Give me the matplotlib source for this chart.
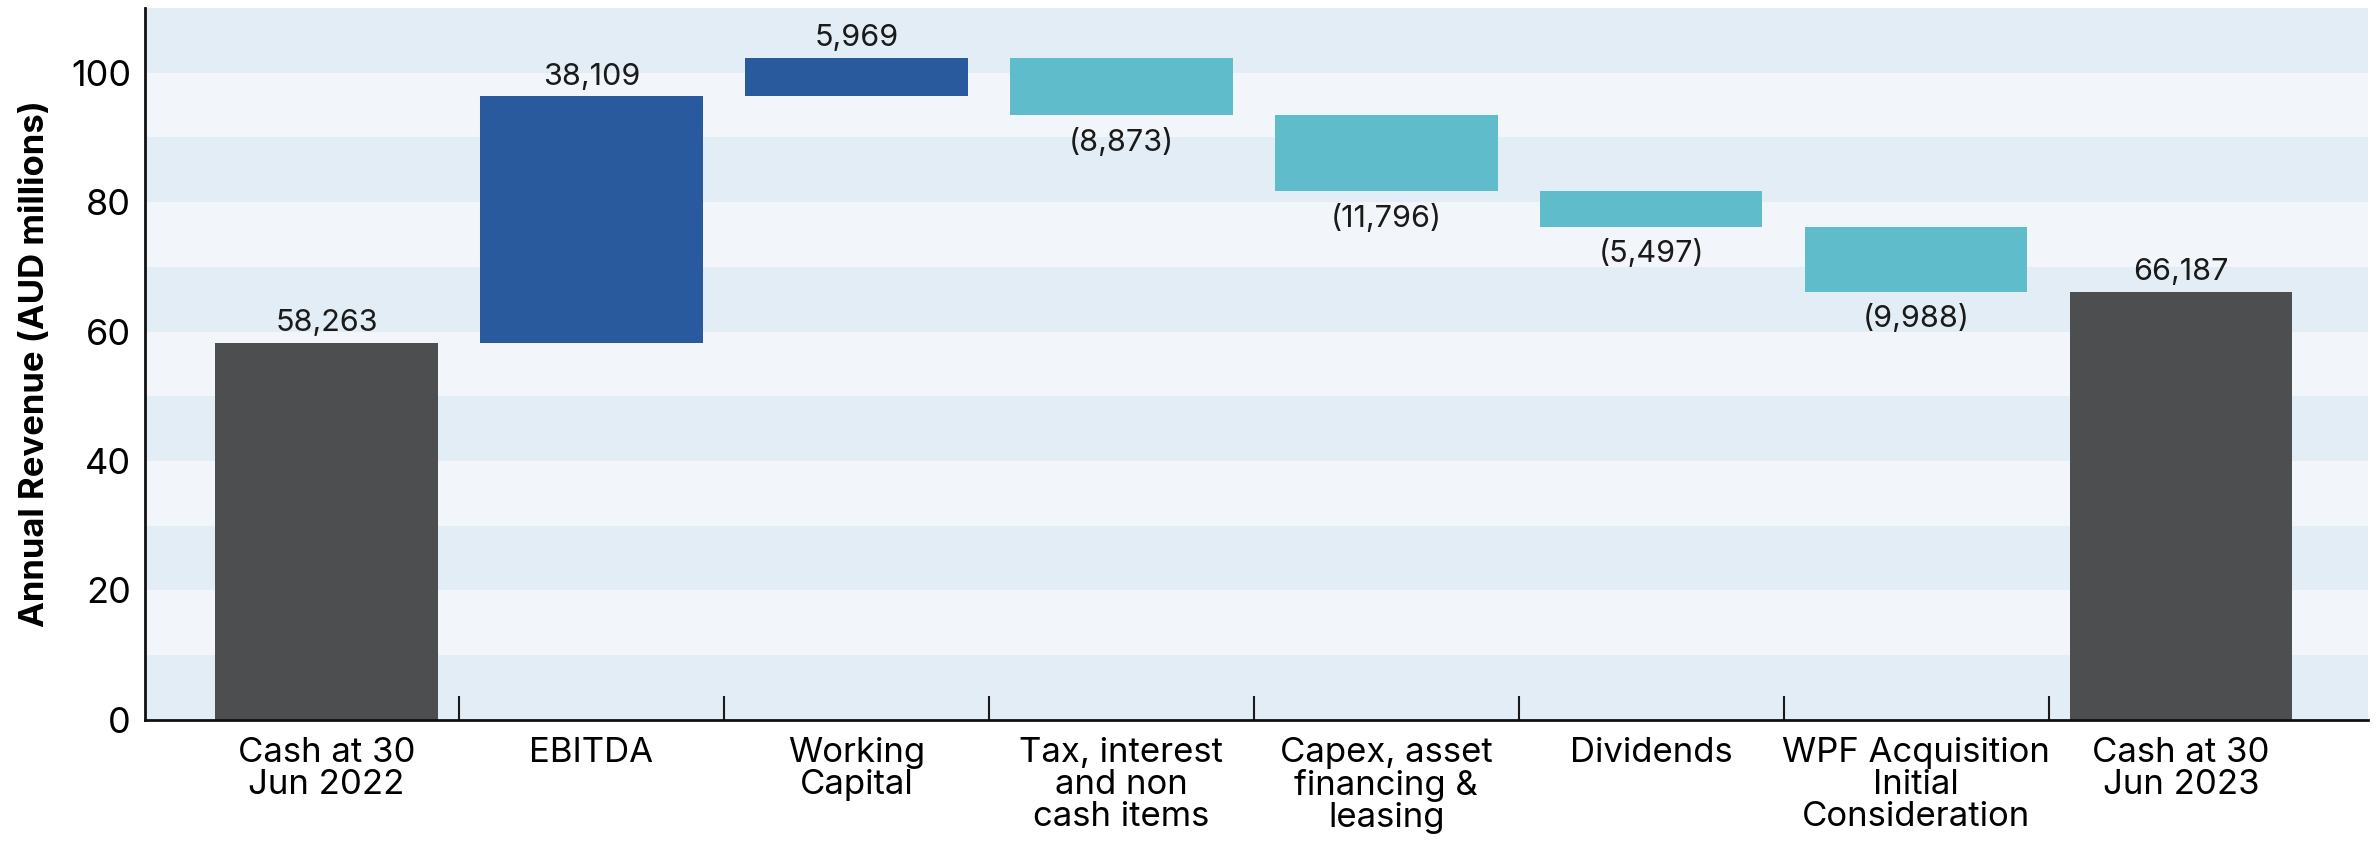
import matplotlib
matplotlib.use("Agg")
import matplotlib.pyplot as plt
import numpy as np

categories = ["Cash at 30\nJun 2022", "EBITDA", "Working\nCapital", "Tax, interest\nand non\ncash items",
              "Capex, asset\nfinancing &\nleasing", "Dividends", "WPF Acquisition\nInitial\nConsideration",
              "Cash at 30\nJun 2023"]
values = [58263, 38109, 5969, -8873, -11796, -5497, -9988, 66187]
kinds = ["total", "delta", "delta", "delta", "delta", "delta", "delta", "total"]
y_ticks = [0, 20, 40, 60, 80, 100]
y_label = "Annual Revenue (AUD millions)"

C_TOTAL = "#4d4e50"
C_POS = "#2a5a9e"
C_NEG = "#5fbccb"
BAND_DARK = "#e3edf5"
BAND_LIGHT = "#f2f6fb"

plt.rcParams['font.family'] = ['Inter', 'DejaVu Sans']

fig = plt.figure(figsize=(23.76, 8.44), dpi=100)
ax = fig.add_axes([0.061, 0.147, 0.9356, 0.8435])

ymax = 110
for i, lo in enumerate(range(0, ymax, 10)):
    ax.axhspan(lo, lo + 10, color=BAND_DARK if i % 2 == 0 else BAND_LIGHT, lw=0, zorder=0)

x = np.arange(len(categories))
running = 0.0
for i, (v, k) in enumerate(zip(values, kinds)):
    val = v / 1000.0
    if k == "total":
        bottom, height, color = 0, val, C_TOTAL
        running = val
    else:
        if val >= 0:
            bottom, height, color = running, val, C_POS
        else:
            bottom, height, color = running + val, -val, C_NEG
        running += val
    ax.bar(x[i], height, bottom=bottom, width=0.84, color=color, zorder=2)
    if v >= 0:
        ax.annotate(f"{v:,}", (x[i], bottom + height), xytext=(0, 4), textcoords="offset points",
                    ha="center", va="bottom", fontsize=22, color="#1a1a1a")
    else:
        ax.annotate(f"({-v:,})", (x[i], bottom), xytext=(0, -9), textcoords="offset points",
                    ha="center", va="top", fontsize=22, color="#1a1a1a")

ax.set_xlim(-0.685, len(categories) - 1 + 0.705)
ax.set_ylim(0, ymax)
ax.set_yticks(y_ticks)
ax.set_xticks(x)
ax.set_xticklabels(categories, fontsize=25, linespacing=1.0)
ax.set_xticks(x[:-1] + 0.5, minor=True)
ax.tick_params(axis="x", which="major", length=0, pad=12)
ax.tick_params(axis="x", which="minor", direction="in", length=17, width=1.5, color="#1a1a1a")
ax.tick_params(axis="y", length=0, labelsize=26, pad=10)
ax.set_ylabel(y_label, fontsize=25, fontweight="bold", labelpad=14)

for s in ["top", "right"]:
    ax.spines[s].set_visible(False)
for s in ["left", "bottom"]:
    ax.spines[s].set_linewidth(2)
    ax.spines[s].set_color("#111111")
    ax.spines[s].set_zorder(3)

fig.savefig("out.png", dpi=100)
